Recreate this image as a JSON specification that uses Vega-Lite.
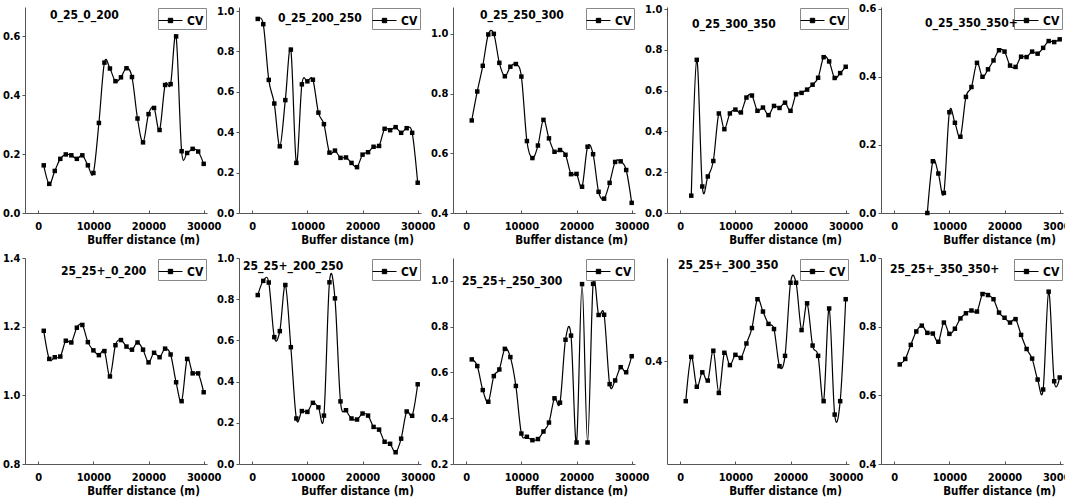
{
  "$schema": "https://vega.github.io/schema/vega-lite/v6.json",
  "padding": {"left": 2, "top": 2, "right": 0, "bottom": 0},
  "background": "white",
  "datasets": {
    "p1": [{"d":1000,"cv":0.162},{"d":2000,"cv":0.099},{"d":3000,"cv":0.143},{"d":4000,"cv":0.184},{"d":5000,"cv":0.199},{"d":6000,"cv":0.196},{"d":7000,"cv":0.184},{"d":8000,"cv":0.196},{"d":9000,"cv":0.162},{"d":10000,"cv":0.136},{"d":11000,"cv":0.306},{"d":12000,"cv":0.511},{"d":13000,"cv":0.491},{"d":14000,"cv":0.448},{"d":15000,"cv":0.461},{"d":16000,"cv":0.492},{"d":17000,"cv":0.462},{"d":18000,"cv":0.321},{"d":19000,"cv":0.240},{"d":20000,"cv":0.336},{"d":21000,"cv":0.357},{"d":22000,"cv":0.282},{"d":23000,"cv":0.435},{"d":24000,"cv":0.438},{"d":25000,"cv":0.600},{"d":26000,"cv":0.210},{"d":27000,"cv":0.204},{"d":28000,"cv":0.218},{"d":29000,"cv":0.209},{"d":30000,"cv":0.167}],
    "p2": [{"d":1000,"cv":0.961},{"d":2000,"cv":0.935},{"d":3000,"cv":0.659},{"d":4000,"cv":0.542},{"d":5000,"cv":0.330},{"d":6000,"cv":0.559},{"d":7000,"cv":0.809},{"d":8000,"cv":0.248},{"d":9000,"cv":0.637},{"d":10000,"cv":0.652},{"d":11000,"cv":0.660},{"d":12000,"cv":0.497},{"d":13000,"cv":0.440},{"d":14000,"cv":0.299},{"d":15000,"cv":0.309},{"d":16000,"cv":0.273},{"d":17000,"cv":0.275},{"d":18000,"cv":0.248},{"d":19000,"cv":0.227},{"d":20000,"cv":0.289},{"d":21000,"cv":0.301},{"d":22000,"cv":0.328},{"d":23000,"cv":0.332},{"d":24000,"cv":0.417},{"d":25000,"cv":0.410},{"d":26000,"cv":0.425},{"d":27000,"cv":0.397},{"d":28000,"cv":0.420},{"d":29000,"cv":0.397},{"d":30000,"cv":0.150}],
    "p3": [{"d":1000,"cv":0.710},{"d":2000,"cv":0.807},{"d":3000,"cv":0.893},{"d":4000,"cv":0.998},{"d":5000,"cv":1.000},{"d":6000,"cv":0.903},{"d":7000,"cv":0.858},{"d":8000,"cv":0.890},{"d":9000,"cv":0.899},{"d":10000,"cv":0.857},{"d":11000,"cv":0.641},{"d":12000,"cv":0.584},{"d":13000,"cv":0.626},{"d":14000,"cv":0.712},{"d":15000,"cv":0.650},{"d":16000,"cv":0.605},{"d":17000,"cv":0.611},{"d":18000,"cv":0.595},{"d":19000,"cv":0.530},{"d":20000,"cv":0.531},{"d":21000,"cv":0.488},{"d":22000,"cv":0.622},{"d":23000,"cv":0.597},{"d":24000,"cv":0.471},{"d":25000,"cv":0.448},{"d":26000,"cv":0.501},{"d":27000,"cv":0.571},{"d":28000,"cv":0.573},{"d":29000,"cv":0.544},{"d":30000,"cv":0.434}],
    "p4": [{"d":2000,"cv":0.085},{"d":3000,"cv":0.751},{"d":4000,"cv":0.130},{"d":5000,"cv":0.179},{"d":6000,"cv":0.255},{"d":7000,"cv":0.488},{"d":8000,"cv":0.411},{"d":9000,"cv":0.488},{"d":10000,"cv":0.507},{"d":11000,"cv":0.493},{"d":12000,"cv":0.566},{"d":13000,"cv":0.576},{"d":14000,"cv":0.501},{"d":15000,"cv":0.517},{"d":16000,"cv":0.480},{"d":17000,"cv":0.525},{"d":18000,"cv":0.515},{"d":19000,"cv":0.541},{"d":20000,"cv":0.501},{"d":21000,"cv":0.582},{"d":22000,"cv":0.589},{"d":23000,"cv":0.605},{"d":24000,"cv":0.629},{"d":25000,"cv":0.663},{"d":26000,"cv":0.764},{"d":27000,"cv":0.743},{"d":28000,"cv":0.662},{"d":29000,"cv":0.686},{"d":30000,"cv":0.717}],
    "p5": [{"d":6000,"cv":0.0},{"d":7000,"cv":0.152},{"d":8000,"cv":0.116},{"d":9000,"cv":0.059},{"d":10000,"cv":0.296},{"d":11000,"cv":0.265},{"d":12000,"cv":0.224},{"d":13000,"cv":0.341},{"d":14000,"cv":0.370},{"d":15000,"cv":0.441},{"d":16000,"cv":0.400},{"d":17000,"cv":0.422},{"d":18000,"cv":0.448},{"d":19000,"cv":0.478},{"d":20000,"cv":0.474},{"d":21000,"cv":0.433},{"d":22000,"cv":0.429},{"d":23000,"cv":0.459},{"d":24000,"cv":0.458},{"d":25000,"cv":0.474},{"d":26000,"cv":0.468},{"d":27000,"cv":0.485},{"d":28000,"cv":0.505},{"d":29000,"cv":0.502},{"d":30000,"cv":0.510}],
    "p6": [{"d":1000,"cv":1.188},{"d":2000,"cv":1.106},{"d":3000,"cv":1.111},{"d":4000,"cv":1.113},{"d":5000,"cv":1.159},{"d":6000,"cv":1.154},{"d":7000,"cv":1.197},{"d":8000,"cv":1.205},{"d":9000,"cv":1.155},{"d":10000,"cv":1.131},{"d":11000,"cv":1.117},{"d":12000,"cv":1.129},{"d":13000,"cv":1.055},{"d":14000,"cv":1.146},{"d":15000,"cv":1.161},{"d":16000,"cv":1.142},{"d":17000,"cv":1.133},{"d":18000,"cv":1.154},{"d":19000,"cv":1.133},{"d":20000,"cv":1.096},{"d":21000,"cv":1.124},{"d":22000,"cv":1.111},{"d":23000,"cv":1.136},{"d":24000,"cv":1.119},{"d":25000,"cv":1.038},{"d":26000,"cv":0.983},{"d":27000,"cv":1.106},{"d":28000,"cv":1.064},{"d":29000,"cv":1.064},{"d":30000,"cv":1.009}],
    "p7": [{"d":1000,"cv":0.820},{"d":2000,"cv":0.889},{"d":3000,"cv":0.881},{"d":4000,"cv":0.616},{"d":5000,"cv":0.645},{"d":6000,"cv":0.869},{"d":7000,"cv":0.567},{"d":8000,"cv":0.221},{"d":9000,"cv":0.257},{"d":10000,"cv":0.253},{"d":11000,"cv":0.297},{"d":12000,"cv":0.275},{"d":13000,"cv":0.235},{"d":14000,"cv":0.882},{"d":15000,"cv":0.804},{"d":16000,"cv":0.304},{"d":17000,"cv":0.261},{"d":18000,"cv":0.221},{"d":19000,"cv":0.216},{"d":20000,"cv":0.245},{"d":21000,"cv":0.235},{"d":22000,"cv":0.180},{"d":23000,"cv":0.167},{"d":24000,"cv":0.108},{"d":25000,"cv":0.098},{"d":26000,"cv":0.057},{"d":27000,"cv":0.123},{"d":28000,"cv":0.255},{"d":29000,"cv":0.234},{"d":30000,"cv":0.387}],
    "p8": [{"d":1000,"cv":0.657},{"d":2000,"cv":0.628},{"d":3000,"cv":0.523},{"d":4000,"cv":0.472},{"d":5000,"cv":0.584},{"d":6000,"cv":0.613},{"d":7000,"cv":0.703},{"d":8000,"cv":0.667},{"d":9000,"cv":0.541},{"d":10000,"cv":0.333},{"d":11000,"cv":0.319},{"d":12000,"cv":0.304},{"d":13000,"cv":0.309},{"d":14000,"cv":0.342},{"d":15000,"cv":0.381},{"d":16000,"cv":0.487},{"d":17000,"cv":0.468},{"d":18000,"cv":0.743},{"d":19000,"cv":0.761},{"d":20000,"cv":0.294},{"d":21000,"cv":0.986},{"d":22000,"cv":0.294},{"d":23000,"cv":0.987},{"d":24000,"cv":0.851},{"d":25000,"cv":0.852},{"d":26000,"cv":0.549},{"d":27000,"cv":0.565},{"d":28000,"cv":0.623},{"d":29000,"cv":0.601},{"d":30000,"cv":0.671}],
    "p9": [{"d":1000,"cv":0.361},{"d":2000,"cv":0.404},{"d":3000,"cv":0.375},{"d":4000,"cv":0.389},{"d":5000,"cv":0.381},{"d":6000,"cv":0.410},{"d":7000,"cv":0.369},{"d":8000,"cv":0.408},{"d":9000,"cv":0.396},{"d":10000,"cv":0.406},{"d":11000,"cv":0.403},{"d":12000,"cv":0.417},{"d":13000,"cv":0.432},{"d":14000,"cv":0.460},{"d":15000,"cv":0.448},{"d":16000,"cv":0.436},{"d":17000,"cv":0.431},{"d":18000,"cv":0.395},{"d":19000,"cv":0.405},{"d":20000,"cv":0.476},{"d":21000,"cv":0.476},{"d":22000,"cv":0.430},{"d":23000,"cv":0.456},{"d":24000,"cv":0.415},{"d":25000,"cv":0.405},{"d":26000,"cv":0.361},{"d":27000,"cv":0.451},{"d":28000,"cv":0.348},{"d":29000,"cv":0.361},{"d":30000,"cv":0.460}],
    "p10": [{"d":1000,"cv":0.690},{"d":2000,"cv":0.706},{"d":3000,"cv":0.747},{"d":4000,"cv":0.786},{"d":5000,"cv":0.803},{"d":6000,"cv":0.782},{"d":7000,"cv":0.780},{"d":8000,"cv":0.756},{"d":9000,"cv":0.812},{"d":10000,"cv":0.779},{"d":11000,"cv":0.794},{"d":12000,"cv":0.824},{"d":13000,"cv":0.839},{"d":14000,"cv":0.847},{"d":15000,"cv":0.844},{"d":16000,"cv":0.895},{"d":17000,"cv":0.892},{"d":18000,"cv":0.880},{"d":19000,"cv":0.841},{"d":20000,"cv":0.826},{"d":21000,"cv":0.812},{"d":22000,"cv":0.822},{"d":23000,"cv":0.776},{"d":24000,"cv":0.735},{"d":25000,"cv":0.707},{"d":26000,"cv":0.646},{"d":27000,"cv":0.617},{"d":28000,"cv":0.902},{"d":29000,"cv":0.641},{"d":30000,"cv":0.652}]
  },
  "vconcat": [
    {
      "hconcat": [
        {"width": 182, "height": 206, "data": {"name": "p1"}, "title": {"text": "0_25_0_200", "dx": 25, "dy": 19},
         "layer": [
          {"mark": {"type": "line", "interpolate": "cardinal", "color": "black", "strokeWidth": 1.2},
           "encoding": {"x": {"field": "d", "type": "quantitative", "scale": {"domain": [-2400, 30600], "nice": false, "zero": false}, "axis": {"values": [0,5000,10000,15000,20000,25000,30000], "labelExpr": "datum.value % 10000 === 0 ? datum.label : ''", "format": "d", "title": "Buffer distance (m)"}},
                        "y": {"field": "cv", "type": "quantitative", "scale": {"domain": [0, 0.7], "nice": false, "zero": false}, "axis": {"values": [0, 0.2, 0.4, 0.6], "format": ".1f"}}}},
          {"mark": {"type": "square", "size": 20, "filled": true, "opacity": 1},
           "encoding": {"x": {"field": "d", "type": "quantitative"}, "y": {"field": "cv", "type": "quantitative"},
                        "color": {"datum": "CV", "type": "nominal", "scale": {"range": ["black"]}, "legend": {"title": null}}}}
         ]},
        {"width": 182, "height": 206, "data": {"name": "p2"}, "title": {"text": "0_25_200_250", "dx": 39, "dy": 24},
         "layer": [
          {"mark": {"type": "line", "interpolate": "cardinal", "color": "black", "strokeWidth": 1.2},
           "encoding": {"x": {"field": "d", "type": "quantitative", "scale": {"domain": [-2400, 30600], "nice": false, "zero": false}, "axis": {"values": [0,5000,10000,15000,20000,25000,30000], "labelExpr": "datum.value % 10000 === 0 ? datum.label : ''", "format": "d", "title": "Buffer distance (m)"}},
                        "y": {"field": "cv", "type": "quantitative", "scale": {"domain": [0, 1.02], "nice": false, "zero": false}, "axis": {"values": [0, 0.2, 0.4, 0.6, 0.8, 1.0], "format": ".1f"}}}},
          {"mark": {"type": "square", "size": 20, "filled": true, "opacity": 1},
           "encoding": {"x": {"field": "d", "type": "quantitative"}, "y": {"field": "cv", "type": "quantitative"},
                        "color": {"datum": "CV", "type": "nominal", "scale": {"range": ["black"]}, "legend": {"title": null}}}}
         ]},
        {"width": 182, "height": 206, "data": {"name": "p3"}, "title": {"text": "0_25_250_300", "dx": 27, "dy": 19},
         "layer": [
          {"mark": {"type": "line", "interpolate": "cardinal", "color": "black", "strokeWidth": 1.2},
           "encoding": {"x": {"field": "d", "type": "quantitative", "scale": {"domain": [-2400, 30600], "nice": false, "zero": false}, "axis": {"values": [0,5000,10000,15000,20000,25000,30000], "labelExpr": "datum.value % 10000 === 0 ? datum.label : ''", "format": "d", "title": "Buffer distance (m)"}},
                        "y": {"field": "cv", "type": "quantitative", "scale": {"domain": [0.4, 1.09], "nice": false, "zero": false}, "axis": {"values": [0.4, 0.6, 0.8, 1.0], "format": ".1f"}}}},
          {"mark": {"type": "square", "size": 20, "filled": true, "opacity": 1},
           "encoding": {"x": {"field": "d", "type": "quantitative"}, "y": {"field": "cv", "type": "quantitative"},
                        "color": {"datum": "CV", "type": "nominal", "scale": {"range": ["black"]}, "legend": {"title": null}}}}
         ]},
        {"width": 182, "height": 206, "data": {"name": "p4"}, "title": {"text": "0_25_300_350", "dx": 25, "dy": 32},
         "layer": [
          {"mark": {"type": "line", "interpolate": "cardinal", "color": "black", "strokeWidth": 1.2},
           "encoding": {"x": {"field": "d", "type": "quantitative", "scale": {"domain": [-2400, 30600], "nice": false, "zero": false}, "axis": {"values": [0,5000,10000,15000,20000,25000,30000], "labelExpr": "datum.value % 10000 === 0 ? datum.label : ''", "format": "d", "title": "Buffer distance (m)"}},
                        "y": {"field": "cv", "type": "quantitative", "scale": {"domain": [0, 1.01], "nice": false, "zero": false}, "axis": {"values": [0, 0.2, 0.4, 0.6, 0.8, 1.0], "format": ".1f"}}}},
          {"mark": {"type": "square", "size": 20, "filled": true, "opacity": 1},
           "encoding": {"x": {"field": "d", "type": "quantitative"}, "y": {"field": "cv", "type": "quantitative"},
                        "color": {"datum": "CV", "type": "nominal", "scale": {"range": ["black"]}, "legend": {"title": null}}}}
         ]},
        {"width": 182, "height": 206, "data": {"name": "p5"}, "title": {"text": "0_25_350_350+", "dx": 44, "dy": 31},
         "layer": [
          {"mark": {"type": "line", "interpolate": "cardinal", "color": "black", "strokeWidth": 1.2},
           "encoding": {"x": {"field": "d", "type": "quantitative", "scale": {"domain": [-2400, 30600], "nice": false, "zero": false}, "axis": {"values": [0,5000,10000,15000,20000,25000,30000], "labelExpr": "datum.value % 10000 === 0 ? datum.label : ''", "format": "d", "title": "Buffer distance (m)"}},
                        "y": {"field": "cv", "type": "quantitative", "scale": {"domain": [0, 0.605], "nice": false, "zero": false}, "axis": {"values": [0, 0.2, 0.4, 0.6], "format": ".1f"}}}},
          {"mark": {"type": "square", "size": 20, "filled": true, "opacity": 1},
           "encoding": {"x": {"field": "d", "type": "quantitative"}, "y": {"field": "cv", "type": "quantitative"},
                        "color": {"datum": "CV", "type": "nominal", "scale": {"range": ["black"]}, "legend": {"title": null}}}}
         ]}
      ],
      "spacing": 32, "bounds": "flush",
      "resolve": {"scale": {"color": "independent"}, "legend": {"color": "independent"}}
    },
    {
      "hconcat": [
        {"width": 182, "height": 206, "data": {"name": "p6"}, "title": {"text": "25_25+_0_200", "dx": 36, "dy": 30},
         "layer": [
          {"mark": {"type": "line", "interpolate": "cardinal", "color": "black", "strokeWidth": 1.2},
           "encoding": {"x": {"field": "d", "type": "quantitative", "scale": {"domain": [-2400, 30600], "nice": false, "zero": false}, "axis": {"values": [0,5000,10000,15000,20000,25000,30000], "labelExpr": "datum.value % 10000 === 0 ? datum.label : ''", "format": "d", "title": "Buffer distance (m)"}},
                        "y": {"field": "cv", "type": "quantitative", "scale": {"domain": [0.8, 1.4], "nice": false, "zero": false}, "axis": {"values": [0.8, 1.0, 1.2, 1.4], "format": ".1f"}}}},
          {"mark": {"type": "square", "size": 20, "filled": true, "opacity": 1},
           "encoding": {"x": {"field": "d", "type": "quantitative"}, "y": {"field": "cv", "type": "quantitative"},
                        "color": {"datum": "CV", "type": "nominal", "scale": {"range": ["black"]}, "legend": {"title": null}}}}
         ]},
        {"width": 182, "height": 206, "data": {"name": "p7"}, "title": {"text": "25_25+_200_250", "dx": 4, "dy": 25},
         "layer": [
          {"mark": {"type": "line", "interpolate": "cardinal", "color": "black", "strokeWidth": 1.2},
           "encoding": {"x": {"field": "d", "type": "quantitative", "scale": {"domain": [-2400, 30600], "nice": false, "zero": false}, "axis": {"values": [0,5000,10000,15000,20000,25000,30000], "labelExpr": "datum.value % 10000 === 0 ? datum.label : ''", "format": "d", "title": "Buffer distance (m)"}},
                        "y": {"field": "cv", "type": "quantitative", "scale": {"domain": [0, 1.0], "nice": false, "zero": false}, "axis": {"values": [0, 0.2, 0.4, 0.6, 0.8, 1.0], "format": ".1f"}}}},
          {"mark": {"type": "square", "size": 20, "filled": true, "opacity": 1},
           "encoding": {"x": {"field": "d", "type": "quantitative"}, "y": {"field": "cv", "type": "quantitative"},
                        "color": {"datum": "CV", "type": "nominal", "scale": {"range": ["black"]}, "legend": {"title": null}}}}
         ]},
        {"width": 182, "height": 206, "data": {"name": "p8"}, "title": {"text": "25_25+_250_300", "dx": 9, "dy": 34},
         "layer": [
          {"mark": {"type": "line", "interpolate": "cardinal", "color": "black", "strokeWidth": 1.2},
           "encoding": {"x": {"field": "d", "type": "quantitative", "scale": {"domain": [-2400, 30600], "nice": false, "zero": false}, "axis": {"values": [0,5000,10000,15000,20000,25000,30000], "labelExpr": "datum.value % 10000 === 0 ? datum.label : ''", "format": "d", "title": "Buffer distance (m)"}},
                        "y": {"field": "cv", "type": "quantitative", "scale": {"domain": [0.2, 1.1], "nice": false, "zero": false}, "axis": {"values": [0.2, 0.4, 0.6, 0.8, 1.0], "format": ".1f"}}}},
          {"mark": {"type": "square", "size": 20, "filled": true, "opacity": 1},
           "encoding": {"x": {"field": "d", "type": "quantitative"}, "y": {"field": "cv", "type": "quantitative"},
                        "color": {"datum": "CV", "type": "nominal", "scale": {"range": ["black"]}, "legend": {"title": null}}}}
         ]},
        {"width": 182, "height": 206, "data": {"name": "p9"}, "title": {"text": "25_25+_300_350", "dx": 11, "dy": 18},
         "layer": [
          {"mark": {"type": "line", "interpolate": "cardinal", "color": "black", "strokeWidth": 1.2},
           "encoding": {"x": {"field": "d", "type": "quantitative", "scale": {"domain": [-2400, 30600], "nice": false, "zero": false}, "axis": {"values": [0,5000,10000,15000,20000,25000,30000], "labelExpr": "datum.value % 10000 === 0 ? datum.label : ''", "format": "d", "title": "Buffer distance (m)"}},
                        "y": {"field": "cv", "type": "quantitative", "scale": {"domain": [0.3, 0.5], "nice": false, "zero": false}, "axis": {"values": [0.4], "format": ".1f"}}}},
          {"mark": {"type": "square", "size": 20, "filled": true, "opacity": 1},
           "encoding": {"x": {"field": "d", "type": "quantitative"}, "y": {"field": "cv", "type": "quantitative"},
                        "color": {"datum": "CV", "type": "nominal", "scale": {"range": ["black"]}, "legend": {"title": null}}}}
         ]},
        {"width": 182, "height": 206, "data": {"name": "p10"}, "title": {"text": "25_25+_350_350+", "dx": 9, "dy": 28},
         "layer": [
          {"mark": {"type": "line", "interpolate": "cardinal", "color": "black", "strokeWidth": 1.2},
           "encoding": {"x": {"field": "d", "type": "quantitative", "scale": {"domain": [-2400, 30600], "nice": false, "zero": false}, "axis": {"values": [0,5000,10000,15000,20000,25000,30000], "labelExpr": "datum.value % 10000 === 0 ? datum.label : ''", "format": "d", "title": "Buffer distance (m)"}},
                        "y": {"field": "cv", "type": "quantitative", "scale": {"domain": [0.4, 1.0], "nice": false, "zero": false}, "axis": {"values": [0.4, 0.6, 0.8, 1.0], "format": ".1f"}}}},
          {"mark": {"type": "square", "size": 20, "filled": true, "opacity": 1},
           "encoding": {"x": {"field": "d", "type": "quantitative"}, "y": {"field": "cv", "type": "quantitative"},
                        "color": {"datum": "CV", "type": "nominal", "scale": {"range": ["black"]}, "legend": {"title": null}}}}
         ]}
      ],
      "spacing": 32, "bounds": "flush",
      "resolve": {"scale": {"color": "independent"}, "legend": {"color": "independent"}}
    }
  ],
  "spacing": 6,
  "resolve": {"scale": {"color": "independent"}, "legend": {"color": "independent"}},
  "config": {
    "view": {"stroke": null},
    "font": "DejaVu Sans Condensed, sans-serif",
    "title": {"anchor": "start", "frame": "group", "offset": 0, "font": "DejaVu Sans Condensed, sans-serif", "fontSize": 12, "fontWeight": "bold", "color": "black"},
    "axis": {"grid": false, "domainColor": "#555555", "tickColor": "#555555", "labelFont": "DejaVu Sans Condensed, sans-serif", "labelFontSize": 11, "labelFontWeight": "bold", "labelColor": "black", "titleFont": "DejaVu Sans Condensed, sans-serif", "titleFontSize": 11.5, "titleFontWeight": "bold", "titleColor": "black"},
    "axisX": {"tickSize": -3, "labelPadding": 10, "titlePadding": 3, "labelFlush": false, "labelOverlap": false, "labelBound": false, "titleX": 118},
    "axisY": {"tickSize": 3, "labelPadding": 2, "title": null},
    "legend": {"orient": "top-right", "offset": 1, "symbolType": "M-1.2,0H1.2M-0.22,-0.22H0.22V0.22H-0.22Z", "symbolSize": 400, "symbolStrokeColor": "black", "symbolStrokeWidth": 1, "symbolFillColor": "black", "labelFont": "DejaVu Sans Condensed, sans-serif", "labelFontSize": 12, "labelFontWeight": "bold", "labelColor": "black", "labelOffset": 6, "strokeColor": "#888888", "fillColor": "white", "padding": 2}
  }
}
